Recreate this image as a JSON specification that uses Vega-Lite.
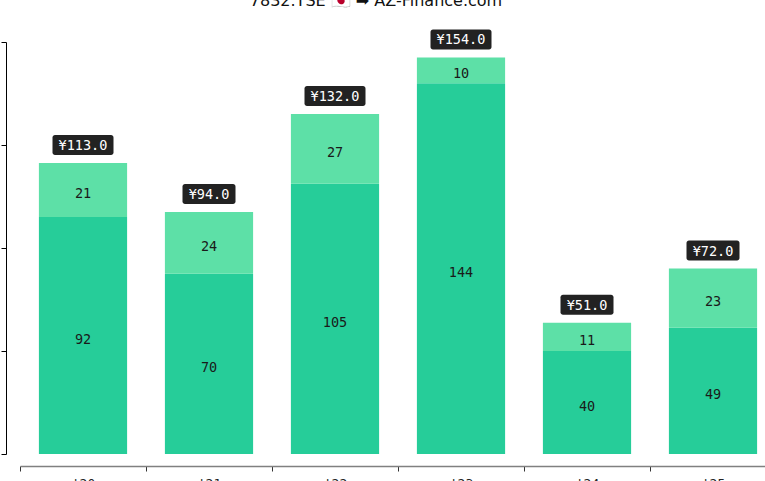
{
  "$schema": "https://vega.github.io/schema/vega-lite/v6.json",
  "width": 756,
  "height": 412,
  "autosize": {"type": "none"},
  "padding": {"left": 20, "top": 42, "right": 0, "bottom": 40},
  "background": "white",
  "title": {
    "text": "7832.TSE 🇯🇵 ➡ AZ-Finance.com",
    "font": "DejaVu Sans",
    "fontSize": 16,
    "fontWeight": "normal",
    "color": "#111111",
    "offset": 20,
    "dx": -22
  },
  "config": {
    "view": {"stroke": null},
    "font": "DejaVu Sans Mono"
  },
  "data": {
    "values": [
      {"year": "'20", "seg": "base", "value": 92},
      {"year": "'20", "seg": "add", "value": 21},
      {"year": "'21", "seg": "base", "value": 70},
      {"year": "'21", "seg": "add", "value": 24},
      {"year": "'22", "seg": "base", "value": 105},
      {"year": "'22", "seg": "add", "value": 27},
      {"year": "'23", "seg": "base", "value": 144},
      {"year": "'23", "seg": "add", "value": 10},
      {"year": "'24", "seg": "base", "value": 40},
      {"year": "'24", "seg": "add", "value": 11},
      {"year": "'25", "seg": "base", "value": 49},
      {"year": "'25", "seg": "add", "value": 23}
    ]
  },
  "transform": [
    {"calculate": "datum.seg == 'base' ? 0 : 1", "as": "ord"},
    {"stack": "value", "groupby": ["year"], "sort": [{"field": "ord"}], "as": ["v0", "v1"]},
    {"calculate": "(datum.v0 + datum.v1) / 2", "as": "mid"}
  ],
  "encoding": {
    "x": {
      "field": "year",
      "type": "ordinal",
      "sort": null,
      "scale": {"paddingInner": 0, "paddingOuter": 0},
      "axis": {
        "title": null,
        "labelAngle": 0,
        "offset": 12,
        "domainColor": "#808080",
        "domainWidth": 1.5,
        "tickBand": "extent",
        "tickColor": "#333333",
        "tickSize": 5,
        "labelFont": "DejaVu Sans Mono",
        "labelFontSize": 13,
        "labelColor": "#222222",
        "labelPadding": 6
      }
    }
  },
  "layer": [
    {
      "mark": {"type": "bar", "width": {"band": 0.7}},
      "encoding": {
        "y": {
          "field": "v0",
          "type": "quantitative",
          "scale": {"domain": [0, 160], "nice": false},
          "axis": {
            "title": null,
            "values": [0, 40, 80, 120, 160],
            "grid": false,
            "offset": 14,
            "domainColor": "#000000",
            "tickColor": "#000000",
            "tickSize": 5,
            "labelFontSize": 12
          }
        },
        "y2": {"field": "v1"},
        "color": {
          "field": "seg",
          "type": "nominal",
          "scale": {"domain": ["base", "add"], "range": ["#26CD99", "#5DE0A7"]},
          "legend": null
        }
      }
    },
    {
      "mark": {"type": "text", "baseline": "middle", "dy": 4, "fontSize": 13.5, "font": "DejaVu Sans Mono", "color": "#1a1a1a"},
      "encoding": {
        "y": {"field": "mid", "type": "quantitative"},
        "text": {"field": "value", "type": "quantitative"}
      }
    },
    {
      "transform": [
        {"aggregate": [{"op": "sum", "field": "value", "as": "total"}], "groupby": ["year"]},
        {"filter": "datum.total >= 100"}
      ],
      "mark": {"type": "rect", "width": 61, "height": 20, "yOffset": -18, "cornerRadius": 2.5, "color": "#222222"},
      "encoding": {
        "y": {"field": "total", "type": "quantitative"}
      }
    },
    {
      "transform": [
        {"aggregate": [{"op": "sum", "field": "value", "as": "total"}], "groupby": ["year"]},
        {"filter": "datum.total < 100"}
      ],
      "mark": {"type": "rect", "width": 53, "height": 20, "yOffset": -18, "cornerRadius": 2.5, "color": "#222222"},
      "encoding": {
        "y": {"field": "total", "type": "quantitative"}
      }
    },
    {
      "transform": [
        {"aggregate": [{"op": "sum", "field": "value", "as": "total"}], "groupby": ["year"]},
        {"calculate": "'¥' + format(datum.total, '.1f')", "as": "label"}
      ],
      "mark": {"type": "text", "baseline": "middle", "dy": -17, "fontSize": 13.5, "font": "DejaVu Sans Mono", "color": "white"},
      "encoding": {
        "y": {"field": "total", "type": "quantitative"},
        "text": {"field": "label"}
      }
    }
  ]
}
